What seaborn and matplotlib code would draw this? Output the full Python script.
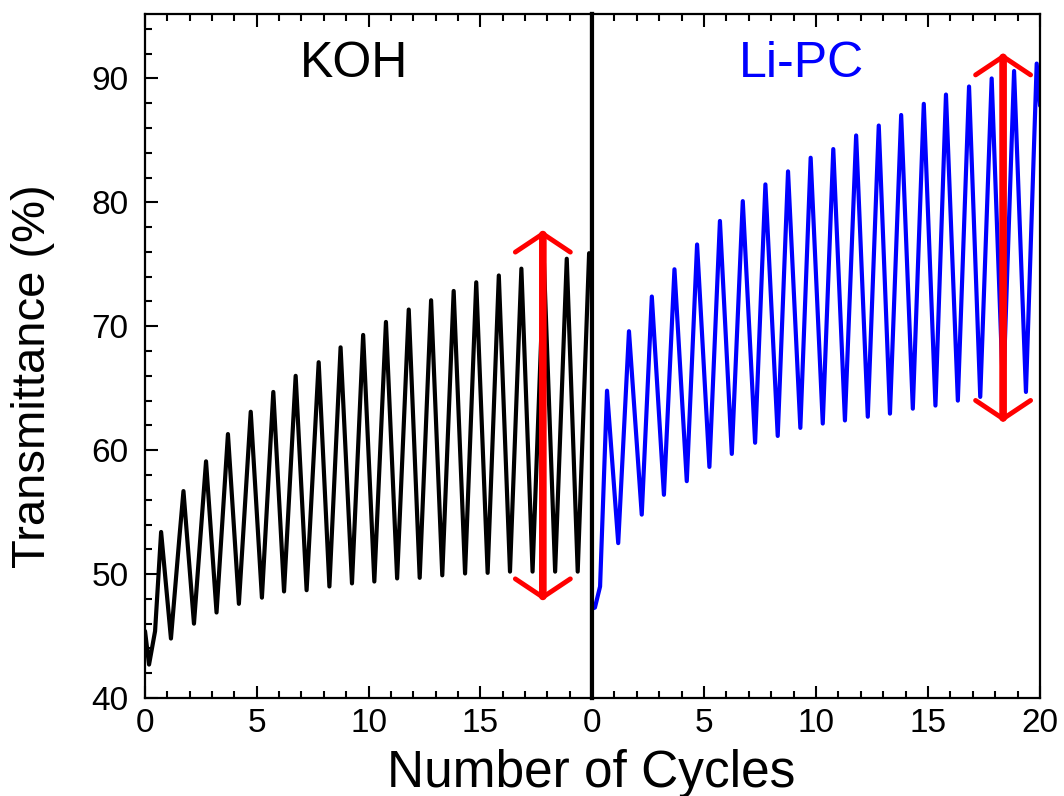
import numpy as np
import matplotlib
matplotlib.use("Agg")
import matplotlib.pyplot as plt
from matplotlib.ticker import MultipleLocator
import seaborn as sns

# values (cycle number, transmittance %)
koh_x = [0.0, 0.18, 0.45, 0.72, 1.16, 1.54, 1.72, 2.19, 2.73, 3.2, 3.71, 4.2, 4.73,
         5.23, 5.74, 6.22, 6.74, 7.23, 7.77, 8.25, 8.75, 9.26, 9.76, 10.26, 10.78,
         11.28, 11.8, 12.29, 12.8, 13.3, 13.81, 14.32, 14.82, 15.33, 15.83, 16.33,
         16.84, 17.34, 17.85, 18.35, 18.87, 19.36, 19.87]
koh_y = [45.4, 42.7, 45.4, 53.4, 44.8, 53.0, 56.7, 46.0, 59.1, 46.9, 61.3, 47.6, 63.1,
         48.1, 64.7, 48.6, 66.0, 48.7, 67.1, 49.0, 68.3, 49.25, 69.3, 49.4, 70.35,
         49.65, 71.35, 49.7, 72.1, 49.9, 72.85, 50.05, 73.55, 50.1, 74.1, 50.2,
         74.65, 50.2, 75.1, 50.2, 75.45, 50.2, 75.9]

lipc_x = [0.0, 0.13, 0.36, 0.67, 1.17, 1.65, 2.22, 2.67, 3.21, 3.68, 4.23, 4.69, 5.24,
          5.71, 6.24, 6.73, 7.28, 7.74, 8.29, 8.75, 9.3, 9.76, 10.3, 10.77, 11.29,
          11.79, 12.31, 12.8, 13.3, 13.8, 14.32, 14.81, 15.33, 15.8, 16.33, 16.83,
          17.33, 17.84, 18.35, 18.84, 19.37, 19.85, 20.0]
lipc_y = [47.2, 47.3, 49.0, 64.8, 52.5, 69.6, 54.8, 72.4, 56.4, 74.6, 57.5, 76.6, 58.65,
          78.5, 59.7, 80.1, 60.6, 81.45, 61.15, 82.5, 61.8, 83.6, 62.15, 84.3, 62.4,
          85.4, 62.7, 86.2, 62.95, 87.05, 63.35, 87.95, 63.6, 88.7, 64.0, 89.35,
          64.3, 90.0, 64.5, 90.6, 64.7, 91.2, 87.8]

# modulation range arrows (x, y_low, y_high)
koh_arrow = (17.8, 47.9, 77.7)
lipc_arrow = (18.35, 62.3, 92.0)

x_ticks = [0, 5, 10, 15, 20]
y_ticks = [40, 50, 60, 70, 80, 90]

sns.set_theme(style="ticks")
plt.rcParams["font.family"] = ["Liberation Sans", "DejaVu Sans"]
plt.rcParams["text.color"] = "black"
plt.rcParams["axes.labelcolor"] = "black"

fig = plt.figure(figsize=(10.64, 7.96), dpi=100)
ax_l = fig.add_axes([0.1363, 0.1231, 0.4201, 0.8593])
ax_r = fig.add_axes([0.5564, 0.1231, 0.4211, 0.8593])

sns.lineplot(x=koh_x, y=koh_y, ax=ax_l, color="black", linewidth=3.0,
             sort=False, estimator=None, solid_joinstyle="round")
sns.lineplot(x=lipc_x, y=lipc_y, ax=ax_r, color="#0000ff", linewidth=3.0,
             sort=False, estimator=None, solid_joinstyle="round")

for ax in (ax_l, ax_r):
    ax.set_xlim(0, 20)
    ax.set_ylim(40, 95.2)
    ax.set_xticks(x_ticks)
    ax.xaxis.set_minor_locator(MultipleLocator(1))
    ax.set_yticks(y_ticks)
    ax.yaxis.set_minor_locator(MultipleLocator(2))
    ax.tick_params(which="both", direction="in", top=True, width=1.5,
                   colors="black", labelcolor="black")
    ax.tick_params(which="major", length=9, labelsize=24)
    ax.tick_params(which="minor", length=5)
    ax.tick_params(axis="x", pad=7)
    ax.tick_params(axis="y", pad=12)
    for sp in ax.spines.values():
        sp.set_linewidth(1.6)
        sp.set_color("black")
    ax.set_xlabel("")
    ax.set_ylabel("")

ax_l.set_xticklabels(["0", "5", "10", "15", ""])
ax_r.tick_params(axis="y", which="both", left=False, labelleft=False)
ax_l.spines["right"].set_linewidth(3.0)
ax_r.spines["left"].set_linewidth(3.0)

for ax, (ax_x, y0, y1) in ((ax_l, koh_arrow), (ax_r, lipc_arrow)):
    # thick shaft, then thinner open heads
    ax.annotate("", xy=(ax_x, y1 - 0.3), xytext=(ax_x, y0 + 0.3),
                arrowprops=dict(arrowstyle="-", color="red", lw=5.5,
                                shrinkA=0, shrinkB=0), zorder=5)
    ax.annotate("", xy=(ax_x, y1), xytext=(ax_x, y0),
                arrowprops=dict(arrowstyle="<->,head_length=1.1,head_width=1.65",
                                color="red", lw=3.5, shrinkA=0, shrinkB=0,
                                joinstyle="miter"),
                zorder=5)

ax_l.text(9.35, 90.1, "KOH", fontsize=36, color="black", ha="center", va="baseline")
ax_r.text(9.33, 90.1, "Li-PC", fontsize=36, color="#0000ff", ha="center", va="baseline")

fig.text(0.031, 1 - 376 / 796, "Transmittance (%)", rotation=90, fontsize=34,
         color="black", ha="center", va="center")
fig.text(0.556, 0.0113, "Number of Cycles", fontsize=37, color="black",
         ha="center", va="baseline")

fig.savefig("out.png", dpi=100)
